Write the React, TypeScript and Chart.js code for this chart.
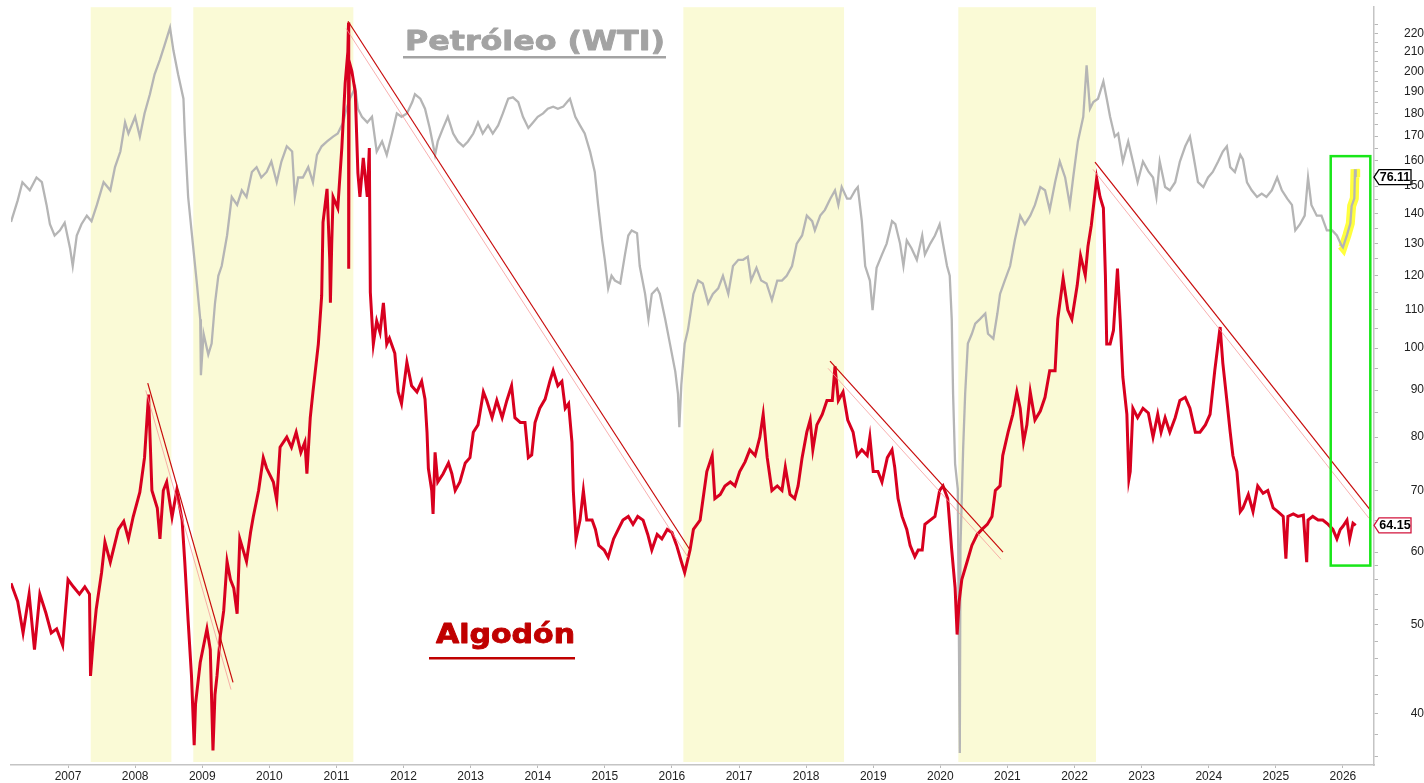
import { useEffect, useRef } from 'react';
import { Chart, registerables } from 'chart.js';

Chart.register(...registerables);

// ---------- DATA (decimal year, value) ----------
// Cotton (ICE nearby, US cents/lb) - right axis
const cotton: [number, number][] = [
  [2006.15, 55.5], [2006.25, 53], [2006.33, 49], [2006.42, 54], [2006.5, 47], [2006.58, 54], [2006.67, 51.5],
  [2006.75, 49], [2006.83, 49.5], [2006.92, 47.5], [2007.0, 56], [2007.08, 55], [2007.17, 54], [2007.25, 55],
  [2007.32, 54], [2007.335, 44], [2007.38, 48.5], [2007.42, 52], [2007.5, 57], [2007.55, 61.5], [2007.63, 58.5],
  [2007.75, 63.5], [2007.83, 64.8], [2007.9, 62], [2007.97, 65.5], [2008.07, 69.7], [2008.14, 76], [2008.2, 89],
  [2008.25, 70], [2008.33, 67], [2008.37, 62], [2008.42, 70], [2008.47, 71.5], [2008.55, 65.5], [2008.62, 70],
  [2008.7, 65], [2008.74, 58.5], [2008.79, 50.5], [2008.84, 44], [2008.88, 37], [2008.9, 41], [2008.97, 45.5],
  [2009.07, 49.5], [2009.12, 47], [2009.16, 36.5], [2009.19, 42], [2009.22, 44], [2009.27, 48.7], [2009.32, 51.8],
  [2009.37, 58.6], [2009.42, 56], [2009.47, 54.8], [2009.52, 51.4], [2009.56, 62], [2009.66, 58.6], [2009.72, 63],
  [2009.76, 65.5], [2009.84, 70], [2009.91, 76], [2009.96, 74], [2010.06, 71.5], [2010.11, 68.3], [2010.16, 78],
  [2010.26, 80], [2010.33, 78], [2010.4, 81], [2010.47, 77], [2010.53, 79], [2010.56, 73], [2010.61, 84],
  [2010.65, 89.6], [2010.73, 101], [2010.78, 114], [2010.8, 137], [2010.86, 149], [2010.9, 125], [2010.91, 112],
  [2010.93, 130], [2010.95, 146], [2011.02, 142], [2011.08, 165], [2011.13, 194], [2011.17, 210], [2011.18, 226],
  [2011.183, 122], [2011.19, 205], [2011.23, 200], [2011.28, 190], [2011.32, 155], [2011.35, 146], [2011.4, 161],
  [2011.46, 146], [2011.49, 165], [2011.505, 115], [2011.55, 101], [2011.6, 107], [2011.65, 104], [2011.7, 112],
  [2011.75, 101], [2011.79, 102.5], [2011.87, 98.7], [2011.92, 89.6], [2011.97, 87], [2012.05, 96.5], [2012.12, 91],
  [2012.2, 89.6], [2012.27, 92], [2012.32, 88], [2012.35, 81], [2012.37, 74], [2012.42, 70], [2012.44, 66],
  [2012.47, 77], [2012.51, 71.5], [2012.59, 73], [2012.67, 75], [2012.72, 73], [2012.77, 70], [2012.84, 71.5],
  [2012.92, 75], [2012.99, 76], [2013.04, 81], [2013.11, 82.5], [2013.19, 89.6], [2013.24, 87.7], [2013.32, 84],
  [2013.39, 87.7], [2013.47, 84], [2013.54, 87.7], [2013.61, 91], [2013.66, 84], [2013.74, 83], [2013.81, 83],
  [2013.86, 76], [2013.91, 76.5], [2013.96, 83], [2014.03, 86], [2014.11, 88], [2014.18, 92], [2014.23, 94.5],
  [2014.3, 91], [2014.36, 92], [2014.41, 86], [2014.46, 87], [2014.51, 79], [2014.53, 70], [2014.57, 62],
  [2014.63, 65], [2014.68, 70], [2014.73, 65], [2014.81, 65], [2014.86, 63.5], [2014.91, 61], [2014.99, 60.3],
  [2015.05, 59.2], [2015.13, 62], [2015.2, 63.5], [2015.27, 65], [2015.35, 65.6], [2015.42, 64.3], [2015.49, 65.6],
  [2015.57, 65], [2015.64, 62.7], [2015.7, 60.3], [2015.78, 62.7], [2015.85, 62], [2015.93, 63.5], [2016.0, 63],
  [2016.07, 61], [2016.14, 58.6], [2016.19, 57], [2016.27, 60.3], [2016.32, 63.5], [2016.42, 65], [2016.52, 73.4],
  [2016.6, 76.4], [2016.64, 68.6], [2016.72, 69.3], [2016.79, 70.8], [2016.87, 71.5], [2016.94, 70.8],
  [2017.01, 73.4], [2017.09, 75.2], [2017.16, 77.5], [2017.24, 76.4], [2017.31, 80], [2017.36, 84.7], [2017.42, 76],
  [2017.49, 70], [2017.57, 70.8], [2017.64, 70], [2017.69, 74.2], [2017.76, 69.3], [2017.83, 68.6], [2017.88, 70.8],
  [2017.94, 76], [2018.01, 81], [2018.06, 83.5], [2018.1, 77.5], [2018.16, 82.5], [2018.24, 84.7], [2018.31, 87.7],
  [2018.39, 87.7], [2018.43, 95.5], [2018.48, 87.7], [2018.55, 89.6], [2018.62, 83.5], [2018.7, 81], [2018.76, 76.4],
  [2018.83, 77.5], [2018.91, 76.4], [2018.95, 80], [2019.0, 73.4], [2019.07, 73.4], [2019.13, 71.5], [2019.21, 76],
  [2019.28, 77.5], [2019.32, 74.2], [2019.37, 68.6], [2019.43, 65.6], [2019.5, 63.5], [2019.55, 61], [2019.62, 59.3],
  [2019.67, 60.3], [2019.73, 60.3], [2019.77, 64.3], [2019.85, 65], [2019.92, 65.6], [2019.99, 70], [2020.04, 70.8],
  [2020.11, 68.6], [2020.17, 60.3], [2020.22, 54.9], [2020.25, 48.8], [2020.28, 53], [2020.32, 56], [2020.4, 58.6],
  [2020.47, 61], [2020.55, 62.7], [2020.62, 63.5], [2020.7, 64.3], [2020.77, 65.6], [2020.82, 70], [2020.89, 70.8],
  [2020.93, 76.4], [2021.01, 81], [2021.08, 84.7], [2021.14, 89.6], [2021.19, 86], [2021.24, 79], [2021.29, 82.5],
  [2021.34, 89.6], [2021.41, 83.5], [2021.49, 85.4], [2021.56, 88.4], [2021.63, 94.5], [2021.71, 94.5],
  [2021.75, 107.5], [2021.83, 119], [2021.9, 110], [2021.96, 107.5], [2022.04, 117], [2022.09, 126], [2022.16, 120],
  [2022.2, 129], [2022.25, 136], [2022.33, 153], [2022.38, 146], [2022.43, 142], [2022.46, 120], [2022.48, 101],
  [2022.53, 101], [2022.58, 104.5], [2022.64, 122], [2022.68, 107.5], [2022.72, 93], [2022.78, 84.7], [2022.81, 72],
  [2022.83, 73.4], [2022.87, 86], [2022.94, 84], [2023.02, 86], [2023.1, 85], [2023.17, 80], [2023.24, 84.7],
  [2023.29, 81], [2023.35, 84], [2023.42, 81], [2023.5, 84], [2023.57, 87.7], [2023.65, 88.4], [2023.72, 86],
  [2023.8, 81], [2023.87, 81], [2023.95, 82.5], [2024.02, 84.7], [2024.09, 94.5], [2024.17, 105.4], [2024.21, 96.3],
  [2024.27, 87.7], [2024.32, 81], [2024.36, 76.4], [2024.42, 73.4], [2024.47, 66.4], [2024.51, 67], [2024.59, 69.3],
  [2024.66, 66.4], [2024.73, 70.8], [2024.81, 69.5], [2024.88, 70], [2024.96, 67], [2025.03, 66.4], [2025.11, 65.6],
  [2025.15, 59], [2025.18, 65.6], [2025.26, 66], [2025.33, 65.6], [2025.41, 65.8], [2025.46, 58.5], [2025.48, 65],
  [2025.55, 65.6], [2025.63, 65], [2025.7, 65], [2025.78, 64.3], [2025.85, 63.5], [2025.91, 62], [2025.96, 63.5],
  [2026.0, 64], [2026.06, 65], [2026.1, 62], [2026.15, 64.5], [2026.19, 64.15],
];

// WTI crude (USD/bbl) - hidden log axis
const oil: [number, number][] = [
  [2006.15, 63], [2006.25, 69], [2006.32, 74.5], [2006.43, 72], [2006.53, 76], [2006.61, 74.5], [2006.68, 67.7],
  [2006.73, 62.4], [2006.8, 59.5], [2006.88, 60.8], [2006.95, 62.8], [2007.03, 56.4], [2007.07, 52.3], [2007.13, 59.5],
  [2007.2, 62.4], [2007.28, 64.7], [2007.35, 63.2], [2007.43, 67.7], [2007.53, 74.5], [2007.63, 72], [2007.7, 79.4],
  [2007.78, 84.8], [2007.85, 95.9], [2007.9, 91.5], [2008.0, 98.2], [2008.07, 90.3], [2008.14, 99.6], [2008.22, 108],
  [2008.29, 117.5], [2008.37, 125], [2008.44, 133], [2008.52, 143], [2008.57, 130], [2008.64, 117.5], [2008.72, 106],
  [2008.74, 91.5], [2008.79, 70], [2008.84, 60.8], [2008.92, 48.6], [2008.97, 41.8], [2008.98, 33], [2009.02, 39.3],
  [2009.09, 36], [2009.14, 37.7], [2009.19, 44.7], [2009.24, 50.2], [2009.29, 52.3], [2009.37, 59.5], [2009.44, 70],
  [2009.52, 67.7], [2009.59, 72], [2009.66, 70], [2009.74, 77.8], [2009.81, 79.4], [2009.88, 76], [2009.96, 77.8],
  [2010.03, 81.3], [2010.11, 74.5], [2010.18, 81.3], [2010.26, 86.7], [2010.34, 84.8], [2010.38, 70], [2010.43, 76],
  [2010.5, 76], [2010.58, 79.4], [2010.65, 74.5], [2010.71, 83.6], [2010.78, 86.7], [2010.86, 88.5], [2010.95, 90.3],
  [2011.02, 91.5], [2011.1, 95.9], [2011.15, 101.6], [2011.2, 106], [2011.28, 111], [2011.32, 101.6], [2011.38, 98.2],
  [2011.46, 95.9], [2011.53, 98.2], [2011.6, 84.8], [2011.68, 88.5], [2011.75, 83.6], [2011.83, 91.5], [2011.9, 99.6],
  [2011.97, 98.2], [2012.05, 99.6], [2012.13, 104.5], [2012.17, 108], [2012.25, 106], [2012.32, 101.6], [2012.39, 93.7],
  [2012.47, 83.6], [2012.51, 88.5], [2012.59, 93.7], [2012.66, 98.2], [2012.74, 91.5], [2012.81, 88.5], [2012.89, 86.7],
  [2012.96, 88.5], [2013.04, 91.5], [2013.11, 95.9], [2013.18, 91.5], [2013.26, 94.7], [2013.33, 91.5], [2013.41, 94.7],
  [2013.48, 99.6], [2013.56, 106], [2013.63, 106.6], [2013.71, 104.5], [2013.78, 98.2], [2013.86, 93.7], [2013.93, 95.9],
  [2014.0, 98.2], [2014.08, 99.6], [2014.15, 101.6], [2014.23, 102.5], [2014.3, 101.6], [2014.38, 102.5], [2014.45, 105],
  [2014.48, 106], [2014.56, 98.2], [2014.63, 94.7], [2014.7, 91.5], [2014.78, 84.8], [2014.85, 77.8], [2014.9, 67.7],
  [2014.96, 58.3], [2015.0, 53.7], [2015.05, 47.6], [2015.1, 50.2], [2015.15, 49.2], [2015.23, 48.6], [2015.3, 54.9],
  [2015.35, 59.5], [2015.4, 60.8], [2015.48, 60.1], [2015.52, 52.3], [2015.6, 46.5], [2015.65, 41.8], [2015.7, 46.5],
  [2015.78, 47.6], [2015.82, 46.5], [2015.9, 41.8], [2015.97, 37.7], [2016.05, 33.5], [2016.09, 30.5], [2016.11, 26.5],
  [2016.14, 31.7], [2016.19, 37.7], [2016.24, 40], [2016.32, 46.5], [2016.39, 49.2], [2016.46, 48.6], [2016.54, 44.7],
  [2016.61, 46.5], [2016.69, 47.6], [2016.76, 50.2], [2016.84, 46.5], [2016.91, 52.3], [2016.99, 53.7], [2017.06, 53.7],
  [2017.13, 54.4], [2017.18, 49.2], [2017.26, 51.9], [2017.33, 49.2], [2017.41, 48.6], [2017.49, 45.3], [2017.57, 49.2],
  [2017.64, 49.2], [2017.71, 50.2], [2017.79, 52.3], [2017.86, 57.5], [2017.94, 59.5], [2018.01, 64.7], [2018.09, 63.2],
  [2018.13, 60.8], [2018.21, 64.7], [2018.28, 66.3], [2018.36, 69.5], [2018.43, 72], [2018.48, 67.7], [2018.53, 73],
  [2018.61, 69.5], [2018.66, 69.5], [2018.73, 72], [2018.77, 73], [2018.83, 63.2], [2018.88, 52.3], [2018.95, 49.2],
  [2018.99, 43.4], [2019.05, 51.9], [2019.13, 54.9], [2019.2, 57.5], [2019.28, 63.2], [2019.33, 62.4], [2019.4, 57.5],
  [2019.45, 52.3], [2019.5, 58.3], [2019.57, 56.4], [2019.65, 53.7], [2019.73, 59.5], [2019.77, 54.9], [2019.85, 57.5],
  [2019.92, 59.5], [2019.99, 62.4], [2020.04, 57.5], [2020.1, 52.3], [2020.14, 50.2], [2020.17, 41.8], [2020.19, 30.5],
  [2020.22, 22.7], [2020.26, 20.4], [2020.29, 6.7], [2020.3, 16], [2020.34, 24.2], [2020.37, 30.5], [2020.41, 37.7],
  [2020.47, 39.3], [2020.52, 41], [2020.59, 41.8], [2020.67, 42.8], [2020.71, 39.3], [2020.79, 38.5], [2020.85, 42.8],
  [2020.89, 46.5], [2020.96, 49.2], [2021.04, 52.3], [2021.11, 58.3], [2021.19, 64.7], [2021.26, 62.4], [2021.34, 64.7],
  [2021.41, 67.7], [2021.49, 73], [2021.56, 72], [2021.63, 66.3], [2021.71, 74.5], [2021.78, 81.3], [2021.86, 76],
  [2021.93, 67.7], [2021.98, 76], [2022.05, 88.5], [2022.13, 98.2], [2022.18, 122], [2022.23, 101.6], [2022.28, 104.5],
  [2022.35, 106], [2022.43, 114], [2022.48, 106], [2022.53, 98.2], [2022.6, 90.3], [2022.65, 91.5], [2022.72, 81.3],
  [2022.8, 88.5], [2022.87, 81.3], [2022.94, 74.5], [2023.02, 81.3], [2023.1, 78], [2023.17, 76], [2023.22, 70],
  [2023.27, 81.3], [2023.35, 73], [2023.42, 72], [2023.5, 74.5], [2023.57, 81.3], [2023.65, 86.7], [2023.72, 90.3],
  [2023.77, 83.6], [2023.84, 74.5], [2023.92, 73], [2023.99, 76], [2024.06, 77.8], [2024.14, 81.3], [2024.21, 84.8],
  [2024.27, 86.7], [2024.32, 79.4], [2024.39, 77.8], [2024.47, 83.6], [2024.51, 82], [2024.57, 74.5], [2024.64, 72],
  [2024.72, 70], [2024.79, 71], [2024.86, 70], [2024.94, 72], [2025.02, 76], [2025.09, 72], [2025.17, 69.5],
  [2025.24, 67.7], [2025.29, 60.8], [2025.36, 62.4], [2025.43, 64.7], [2025.48, 76], [2025.53, 67.7], [2025.61, 64.7],
  [2025.68, 64.7], [2025.76, 60.8], [2025.84, 60.8], [2025.91, 59.5], [2025.98, 57], [2026.0, 56.6], [2026.06, 59.6],
  [2026.11, 62.6], [2026.13, 67.4], [2026.17, 69.6], [2026.18, 78.7], [2026.19, 76.11],
];

// Start of the yellow-highlighted stretch of the oil series
const highlightFrom = 2025.98;

// Shaded periods (decimal years)
const shadedPeriods: [number, number][] = [
  [2007.338, 2008.54], [2008.867, 2011.252], [2016.17, 2018.565], [2020.268, 2022.32],
];

// Down-trend lines on the cotton scale: [start, end]
const trendLines: [[number, number], [number, number]][] = [
  [[2008.188, 91.6], [2009.459, 43.3]],
  [[2011.173, 226.7], [2016.27, 60.3]],
  [[2018.356, 96.8], [2020.934, 60.0]],
  [[2022.305, 159.3], [2026.418, 66.5]],
];

// Green box (cotton-scale coordinates)
const boxFrom = 2025.818, boxTo = 2026.408, boxTop = 161.7, boxBottom = 58.0;

// Axis ticks
const yearTicks = [2007, 2008, 2009, 2010, 2011, 2012, 2013, 2014, 2015, 2016, 2017, 2018, 2019, 2020, 2021, 2022, 2023, 2024, 2025, 2026];
const majorTicks = [40, 50, 60, 70, 80, 90, 100, 110, 120, 130, 140, 150, 160, 170, 180, 190, 200, 210, 220];
const minorTicks = [36, 38, 42, 44, 46, 48, 52, 54, 56, 58, 65, 75, 85, 95, 105, 115, 125, 135, 145, 155, 165, 175, 185, 195, 205, 215, 225];

const lastCotton = cotton[cotton.length - 1][1];
const lastOil = oil[oil.length - 1][1];

const W = 1424, H = 783;
const FONT = '"Liberation Sans", Arial, sans-serif';

function drawTitle(ctx: CanvasRenderingContext2D, text: string, x: number, baseline: number, width: number, color: string, ulY: number, ulFrom: number, ulTo: number) {
  ctx.save();
  ctx.font = 'bold 27px "DejaVu Sans", sans-serif';
  (ctx as any).letterSpacing = '0px';
  const w0 = ctx.measureText(text).width;
  const sx = width / w0;
  ctx.translate(x, baseline);
  ctx.scale(sx, 1);
  ctx.fillStyle = color;
  ctx.strokeStyle = color;
  ctx.lineWidth = 0.9;
  ctx.lineJoin = 'round';
  ctx.textAlign = 'left';
  ctx.textBaseline = 'alphabetic';
  ctx.fillText(text, 0, 0);
  ctx.strokeText(text, 0, 0);
  ctx.setTransform(1, 0, 0, 1, 0, 0);
  ctx.fillRect(ulFrom, ulY, ulTo - ulFrom, 2.5);
  ctx.restore();
}

function drawTag(ctx: CanvasRenderingContext2D, text: string, y: number, stroke: string, x0: number) {
  const h = 15, w = 37, aw = 5;
  ctx.save();
  ctx.beginPath();
  ctx.moveTo(x0, y);
  ctx.lineTo(x0 + aw, y - h / 2);
  ctx.lineTo(x0 + w, y - h / 2);
  ctx.lineTo(x0 + w, y + h / 2);
  ctx.lineTo(x0 + aw, y + h / 2);
  ctx.closePath();
  ctx.fillStyle = '#ffffff';
  ctx.fill();
  ctx.strokeStyle = stroke;
  ctx.lineWidth = 1.3;
  ctx.stroke();
  ctx.font = 'bold 12.5px ' + FONT;
  ctx.fillStyle = '#000';
  ctx.textAlign = 'center';
  ctx.textBaseline = 'middle';
  ctx.fillText(text, x0 + aw + (w - aw) / 2, y + 0.5);
  ctx.restore();
}

const decorations = {
  id: 'decorations',
  beforeDatasetsDraw(chart: any) {
    const { ctx, chartArea, scales } = chart;
    const x = scales.x;
    ctx.save();
    ctx.fillStyle = '#fafad6';
    for (const [a, b] of shadedPeriods) {
      const x1 = x.getPixelForValue(a);
      const x2 = x.getPixelForValue(b);
      ctx.fillRect(x1, chartArea.top, x2 - x1, chartArea.bottom - chartArea.top - 3);
    }
    ctx.restore();
  },
  afterDatasetsDraw(chart: any) {
    const { ctx, scales } = chart;
    const x = scales.x, y = scales.y;
    drawTitle(ctx, 'Petróleo (WTI)', 405, 50, 260, '#a3a3a3', 56, 403, 666);
    drawTitle(ctx, 'Algodón', 436, 643, 139, '#c00000', 657, 429, 575);
    // green box
    const bx1 = x.getPixelForValue(boxFrom), bx2 = x.getPixelForValue(boxTo);
    const by1 = y.getPixelForValue(boxTop), by2 = y.getPixelForValue(boxBottom);
    ctx.save();
    ctx.strokeStyle = '#19e619';
    ctx.lineWidth = 2.5;
    ctx.strokeRect(bx1, by1, bx2 - bx1, by2 - by1);
    ctx.restore();
  },
  afterDraw(chart: any) {
    const { ctx, scales, chartArea } = chart;
    drawTag(ctx, lastOil.toFixed(2), scales.y2.getPixelForValue(lastOil), '#000000', chartArea.right);
    drawTag(ctx, lastCotton.toFixed(2), scales.y.getPixelForValue(lastCotton), '#d2143c', chartArea.right);
  },
};

const toXY = (arr: [number, number][]) => arr.map(([x, y]) => ({ x, y }));

export default function App() {
  const ref = useRef<HTMLCanvasElement | null>(null);
  useEffect(() => {
    if (!ref.current) return;
    const trendDark = trendLines.map((seg) => ({
      data: toXY(seg),
      yAxisID: 'y',
      borderColor: '#c80a0a',
      borderWidth: 1.2,
      order: 1,
    }));
    const trendLight = trendLines.map((seg) => ({
      data: toXY(seg.map(([t, v]) => [t - 0.03, v * 0.982] as [number, number])),
      yAxisID: 'y',
      borderColor: 'rgba(245,150,150,0.75)',
      borderWidth: 1,
      order: 2,
    }));
    const chart = new Chart(ref.current, {
      type: 'line',
      data: {
        datasets: [
          {
            data: toXY(oil.filter(([t]) => t >= highlightFrom)),
            yAxisID: 'y2',
            borderColor: 'rgba(255,255,40,0.9)',
            borderWidth: 9,
            borderCapStyle: 'butt',
            order: 6,
          },
          { data: toXY(oil), yAxisID: 'y2', borderColor: '#b5b5b5', borderWidth: 2.3, order: 5 },
          { data: toXY(cotton), yAxisID: 'y', borderColor: '#d8001f', borderWidth: 3, order: 4 },
          ...trendLight,
          ...trendDark,
        ] as any,
      },
      options: {
        animation: false,
        responsive: false,
        maintainAspectRatio: false,
        layout: { padding: { left: 11, top: 7, right: 0, bottom: 0 } },
        plugins: { legend: { display: false }, tooltip: { enabled: false }, title: { display: false } },
        elements: { point: { radius: 0 }, line: { tension: 0, fill: false } },
        scales: {
          x: {
            type: 'linear',
            min: 2006.15,
            max: 2026.463,
            bounds: 'data',
            afterBuildTicks: (s: any) => { s.ticks = yearTicks.map((v) => ({ value: v })); },
            afterFit: (s: any) => { s.height = 18; },
            grid: { display: true, drawOnChartArea: false, drawTicks: true, tickLength: 3, color: '#b8b8b8' },
            border: { display: true, color: '#c4c4c4', width: 1.5 },
            ticks: {
              autoSkip: false,
              maxRotation: 0,
              padding: 1,
              color: '#222',
              font: { family: FONT, size: 12 },
              callback: (v: any) => String(v),
            },
          },
          y: {
            type: 'logarithmic',
            position: 'right',
            min: 35.2,
            max: 234.8,
            bounds: 'data',
            afterBuildTicks: (s: any) => {
              s.ticks = [...majorTicks, ...minorTicks].sort((a, b) => a - b).map((v) => ({ value: v }));
            },
            afterFit: (s: any) => { s.width = 50; },
            grid: { display: true, drawOnChartArea: false, drawTicks: true, tickLength: 4, color: '#b8b8b8' },
            border: { display: true, color: '#c4c4c4', width: 1.5 },
            ticks: {
              autoSkip: false,
              crossAlign: 'far',
              padding: 0,
              color: '#222',
              font: { family: FONT, size: 12 },
              callback: (v: any) => (majorTicks.includes(Number(v)) ? String(v) : ''),
            },
          },
          y2: {
            type: 'logarithmic',
            display: false,
            min: 6.367,
            max: 155.95,
            bounds: 'data',
          },
        },
      } as any,
      plugins: [decorations],
    });
    return () => chart.destroy();
  }, []);

  return (
    <div style={{ position: 'fixed', left: 0, top: 0, width: W, height: H, background: '#fff' }}>
      <canvas ref={ref} width={W} height={H} style={{ width: W, height: H, display: 'block' }} />
    </div>
  );
}
